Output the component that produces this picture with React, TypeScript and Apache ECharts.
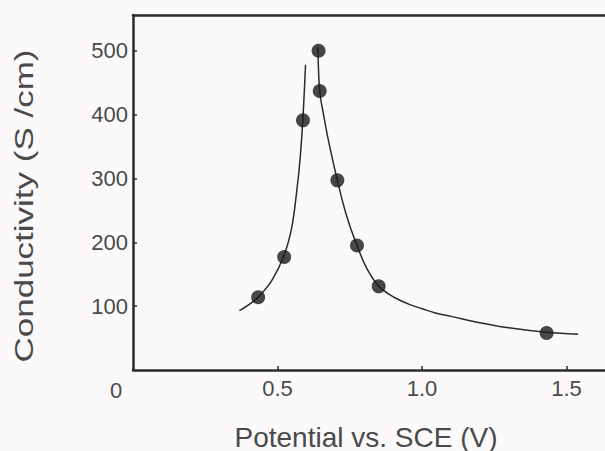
import React, { useEffect, useRef } from "react";
import * as echarts from "echarts";

// Measured points (Potential vs. SCE in V, Conductivity in S/cm)
const dotsX = [0.433, 0.523, 0.588, 0.642, 0.646, 0.707, 0.775, 0.85, 1.431];
const dotsY = [114, 177, 391, 500, 437, 297, 195, 131, 58];

// Fitted curve, left branch
const leftCurveX = [0.368, 0.4, 0.433, 0.48, 0.523, 0.55, 0.567, 0.578, 0.586, 0.592, 0.597];
const leftCurveY = [93, 102, 114, 140, 180, 225, 282, 330, 380, 430, 478];

// Fitted curve, right branch
const rightCurveX = [0.64, 0.646, 0.66, 0.675, 0.707, 0.74, 0.775, 0.81, 0.85, 0.885, 0.92, 0.96, 1.0, 1.05, 1.1, 1.2, 1.3, 1.43, 1.54];
const rightCurveY = [505, 437, 398, 362, 297, 240, 195, 158, 131, 119, 110, 102, 96, 89, 84, 74, 66, 59, 56];

const xTickValues = [0.5, 1.0, 1.5];
const yTickValues = [100, 200, 300, 400, 500];

const FONT = "'Liberation Sans', Arial, Helvetica, sans-serif";
const INK = "#2b2b2b";
const TEXT = "#4a4a4a";

export default function App() {
  const ref = useRef<HTMLDivElement>(null);
  useEffect(() => {
    if (!ref.current) return;
    const chart = echarts.init(ref.current, null, { renderer: "svg" });
    const zip = (xs: number[], ys: number[]) => xs.map((x, i) => [x, ys[i]]);
    const hiddenAxis = {
      type: "value",
      min: 0,
      max: 1.633,
      position: "top",
      splitLine: { show: false },
      axisLine: { show: true, lineStyle: { color: INK, width: 2.5 } },
      axisTick: { show: false },
      axisLabel: { show: false },
    };
    chart.setOption({
      animation: false,
      backgroundColor: "#fbf9f9",
      grid: {
        left: 133,
        top: 15,
        right: 0,
        height: 355,
        show: false,
      },
      xAxis: [
        {
          type: "value",
          min: 0,
          max: 1.633,
          interval: 0.5,
          position: "bottom",
          splitLine: { show: false },
          axisLine: { show: true, lineStyle: { color: INK, width: 2.5 } },
          axisTick: {
            show: true,
            inside: true,
            length: 4,
            lineStyle: { color: INK, width: 1.5 },
            customValues: xTickValues,
          },
          axisLabel: {
            customValues: xTickValues,
            formatter: (v: number) => v.toFixed(1),
            color: TEXT,
            fontSize: 22,
            fontFamily: FONT,
            margin: 7,
          },
        },
        hiddenAxis,
      ],
      yAxis: {
        type: "value",
        min: 0,
        max: 556,
        interval: 100,
        splitLine: { show: false },
        axisLine: { show: true, lineStyle: { color: INK, width: 2.5 } },
        axisTick: {
          show: true,
          inside: true,
          length: 4,
          lineStyle: { color: INK, width: 1.5 },
          customValues: yTickValues,
        },
        axisLabel: {
          customValues: yTickValues,
          color: TEXT,
          fontSize: 22,
          fontFamily: FONT,
          margin: 5,
        },
      },
      graphic: [
        {
          type: "text",
          x: 116,
          y: 390,
          style: {
            text: "0",
            fontSize: 22,
            fontFamily: FONT,
            fill: TEXT,
            align: "center",
            verticalAlign: "middle",
          },
        },
        {
          type: "text",
          x: 366,
          y: 437,
          style: {
            text: "Potential vs. SCE (V)",
            fontSize: 28,
            fontFamily: FONT,
            fill: TEXT,
            align: "center",
            verticalAlign: "middle",
          },
        },
        {
          type: "text",
          x: 24,
          y: 206,
          rotation: Math.PI / 2,
          scaleX: 1.4,
          style: {
            text: "Conductivity (S /cm)",
            fontSize: 25,
            fontFamily: FONT,
            fill: TEXT,
            align: "center",
            verticalAlign: "middle",
          },
        },
      ],
      series: [
        {
          type: "line",
          data: zip(leftCurveX, leftCurveY),
          smooth: 0.3,
          showSymbol: false,
          lineStyle: { color: INK, width: 1.5 },
          z: 2,
        },
        {
          type: "line",
          data: zip(rightCurveX, rightCurveY),
          smooth: 0.4,
          showSymbol: false,
          lineStyle: { color: INK, width: 1.5 },
          z: 2,
        },
        {
          type: "scatter",
          data: zip(dotsX, dotsY),
          symbol: "circle",
          symbolSize: 14,
          itemStyle: { color: "#1a1a1a" },
          z: 3,
        },
      ],
    });
    return () => chart.dispose();
  }, []);
  return (
    <div
      ref={ref}
      style={{ position: "fixed", left: 0, top: 0, width: 605, height: 451 }}
    />
  );
}
